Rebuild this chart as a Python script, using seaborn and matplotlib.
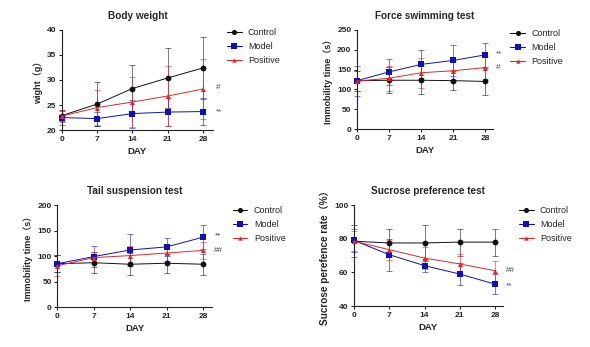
import numpy as np
import pandas as pd
import matplotlib
matplotlib.use("Agg")
import matplotlib.pyplot as plt
import seaborn as sns

days = [0, 7, 14, 21, 28]
groups = ["Control", "Model", "Positive"]

# Body weight (g)
bw_control = [22.9, 25.2, 28.3, 30.4, 32.4]
bw_control_sd = [1.0, 4.4, 4.7, 5.9, 6.2]
bw_model = [22.5, 22.3, 23.3, 23.6, 23.7]
bw_model_sd = [1.5, 1.4, 2.8, 2.8, 2.7]
bw_positive = [22.8, 24.5, 25.6, 26.8, 28.2]
bw_positive_sd = [1.2, 3.5, 5.0, 6.0, 6.0]

# Force swimming test (s)
fs_control = [122, 123, 123, 122, 120]
fs_control_sd = [25, 33, 35, 24, 35]
fs_model = [122, 144, 163, 173, 187]
fs_model_sd = [38, 33, 35, 39, 31]
fs_positive = [121, 128, 142, 147, 155]
fs_positive_sd = [25, 32, 38, 25, 30]

# Tail suspension test (s)
ts_control = [85, 87, 84, 86, 84]
ts_control_sd = [17, 21, 22, 19, 21]
ts_model = [85, 99, 112, 118, 137]
ts_model_sd = [17, 21, 32, 17, 24]
ts_positive = [81, 97, 101, 106, 111]
ts_positive_sd = [21, 11, 19, 15, 16]

# Sucrose preference test (%)
sp_control = [78.5, 77.5, 77.5, 78.0, 78.0]
sp_control_sd = [9.5, 8.5, 10.5, 8.0, 8.0]
sp_model = [79.0, 70.5, 64.0, 59.0, 53.0]
sp_model_sd = [7.0, 9.5, 4.0, 6.5, 6.0]
sp_positive = [78.5, 73.5, 68.5, 65.0, 61.0]
sp_positive_sd = [6.0, 6.0, 6.5, 6.0, 6.0]

sns.set_theme(style="ticks")
plt.rcParams["font.family"] = ["Liberation Sans", "Noto Sans CJK SC", "DejaVu Sans"]

colors = {"Control": "#111111", "Model": "#1010b8", "Positive": "#e02828"}
markers = {"Control": "o", "Model": "s", "Positive": "^"}
msize = {"Control": 4.2, "Model": 4.6, "Positive": 3.6}

fig = plt.figure(figsize=(5.9, 3.47), dpi=100)

panels = [
    dict(title="Body weight", ylabel="wight（g）", ylim=(20, 40), yticks=[20, 25, 30, 35, 40],
         data=[(bw_control, bw_control_sd), (bw_model, bw_model_sd), (bw_positive, bw_positive_sd)],
         ann=[(None, None), ("**", 23.7), ("#", 28.5)],
         pos=[0.105, 0.625, 0.256, 0.289], leg=(0.385, 0.92), xmax=30, ylfs=6.5),
    dict(title="Force swimming test", ylabel="Immobility time（s）", ylim=(0, 250), yticks=[0, 50, 100, 150, 200, 250],
         data=[(fs_control, fs_control_sd), (fs_model, fs_model_sd), (fs_positive, fs_positive_sd)],
         ann=[(None, None), ("**", 190), ("#", 155)],
         pos=[0.605, 0.628, 0.231, 0.286], leg=(0.865, 0.915), xmax=29.7, ylfs=6.5),
    dict(title="Tail suspension test", ylabel="Immobility time（s）", ylim=(0, 200), yticks=[0, 50, 100, 150, 200],
         data=[(ts_control, ts_control_sd), (ts_model, ts_model_sd), (ts_positive, ts_positive_sd)],
         ann=[(None, None), ("**", 139), ("##", 111)],
         pos=[0.097, 0.115, 0.262, 0.294], leg=(0.395, 0.405), xmax=29.7, ylfs=6.5),
    dict(title="Sucrose preference test", ylabel="Sucrose perefence rate（%）", ylim=(40, 100), yticks=[40, 60, 80, 100],
         data=[(sp_control, sp_control_sd), (sp_model, sp_model_sd), (sp_positive, sp_positive_sd)],
         ann=[(None, None), ("**", 52), ("##", 61)],
         pos=[0.600, 0.118, 0.252, 0.291], leg=(0.88, 0.405), xmax=29.5, ylfs=7.2),
]

for p in panels:
    ax = fig.add_axes(p["pos"])
    rows = []
    for g, (m, sd) in zip(groups, p["data"]):
        for d, v, s in zip(days, m, sd):
            rows.append(dict(day=d, value=v, sd=s, group=g))
    df = pd.DataFrame(rows)
    for g in groups:
        sub = df[df.group == g]
        ax.errorbar(sub.day, sub.value, yerr=sub.sd, fmt="none", ecolor=colors[g],
                    elinewidth=0.6, capsize=2.2, capthick=0.6, alpha=0.65, clip_on=False, zorder=2)
    for g in groups:
        sub = df[df.group == g]
        sns.lineplot(data=sub, x="day", y="value", ax=ax, color=colors[g], marker=markers[g],
                     markersize=msize[g], markeredgewidth=0, linewidth=0.7, label=g,
                     clip_on=False, zorder=3, legend=False)
    for (txt, yv), g in zip(p["ann"], groups):
        if txt:
            ax.text(30.5 if p["xmax"] >= 30 else 30.2, yv, txt, fontsize=5.8, color="#444444",
                    va="center", ha="left", clip_on=False)
    ax.set_xlim(0, p["xmax"])
    ax.set_ylim(*p["ylim"])
    ax.set_xticks(days)
    ax.set_yticks(p["yticks"])
    ax.tick_params(axis="both", labelsize=6, width=0.8, length=2.5, pad=1.5)
    for lab in ax.get_xticklabels() + ax.get_yticklabels():
        lab.set_fontweight("bold")
    ax.set_xlabel("DAY", fontsize=6.8, fontweight="bold", labelpad=3)
    ax.set_ylabel(p["ylabel"], fontsize=p["ylfs"], fontweight="bold", labelpad=3)
    ax.set_title(p["title"], fontsize=7.2, fontweight="bold", pad=8)
    sns.despine(ax=ax)
    for sp in ["left", "bottom"]:
        ax.spines[sp].set_linewidth(0.8)
        ax.spines[sp].set_color("#222222")
    handles = [plt.Line2D([], [], color=colors[g], marker=markers[g], markersize=msize[g] - 0.5,
                          markeredgewidth=0, linewidth=0.8) for g in groups]
    fig.legend(handles, groups, loc="upper left", bbox_to_anchor=p["leg"], bbox_transform=fig.transFigure,
               frameon=False, fontsize=6.5, handlelength=1.6, handletextpad=0.7, labelspacing=0.55,
               borderaxespad=0, borderpad=0)

fig.savefig("out.png", dpi=100)
